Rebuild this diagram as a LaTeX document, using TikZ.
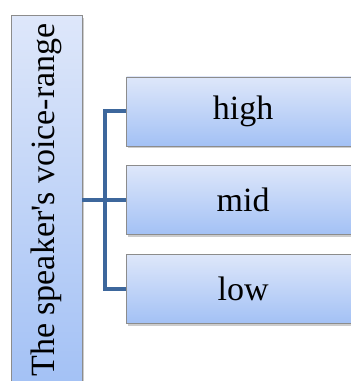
\documentclass[tikz,border=0pt]{standalone}
\usepackage{fontspec}
\setmainfont{Liberation Serif}
\usepackage{graphicx}
\usepackage{tikz}
\usetikzlibrary{positioning,shadows}
\definecolor{rangetop}{HTML}{DEE7FA}
\definecolor{rangebottom}{HTML}{A3C1F5}
\definecolor{rangeedge}{HTML}{8C8C8C}
\definecolor{rangelinecol}{HTML}{3D679C}
\tikzset{
  rangebox/.style={
    draw=rangeedge,
    line width=0.6bp,
    top color=rangetop,
    bottom color=rangebottom,
    drop shadow={shadow xshift=1.5bp,shadow yshift=-2.5bp,opacity=0.4},
    align=center,
    inner sep=2pt,
    font=\fontsize{34bp}{40bp}\selectfont
  },
  levelbox/.style={
    rangebox,
    minimum width=233bp,
    minimum height=69bp
  },
  rangeline/.style={draw=rangelinecol,line width=4bp}
}

\begin{document}
\begin{tikzpicture}[node distance=19bp]
      \useasboundingbox (0,0) rectangle (351bp,-381bp);
      \node[rangebox,minimum width=71bp,minimum height=370bp]
        (range) at (46.5bp,-200bp)
        {\rotatebox{90}{The speaker\textquotesingle s voice-range}};
      \node[levelbox,right=44bp of range] (mid) {mid};
      \node[levelbox,above=of mid] (high) {high};
      \node[levelbox,below=of mid] (low) {low};
      \draw[rangeline] (range) -- (mid);
      \draw[rangeline] (high.west) -- ++(-21bp,0) |- (low.west);
    \end{tikzpicture}
\end{document}
